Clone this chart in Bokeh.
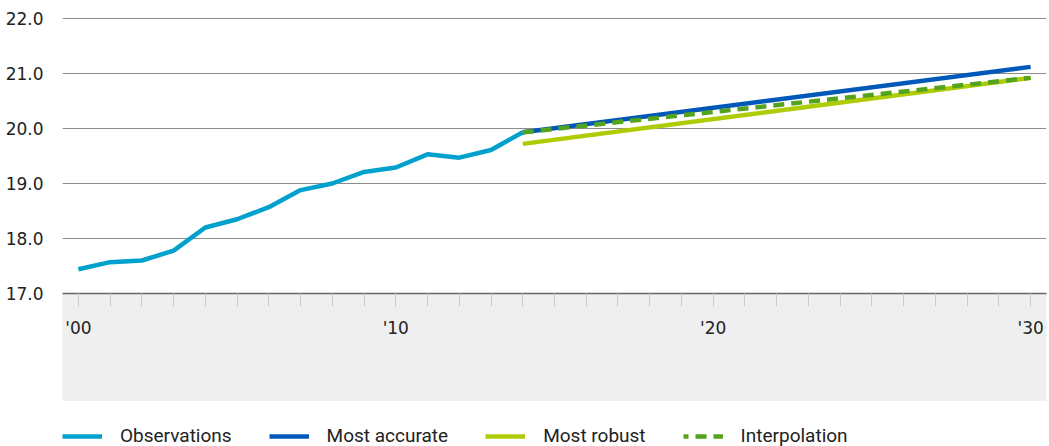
from bokeh.plotting import figure
from bokeh.layouts import column
from bokeh.models import FixedTicker, Legend, LegendItem, Range1d, CustomJSTickFormatter
from bokeh.embed import file_html
from bokeh.resources import INLINE

obs_years = list(range(2000, 2015))
obs_values = [17.44, 17.57, 17.60, 17.78, 18.20, 18.35, 18.57, 18.88, 19.00,
              19.21, 19.29, 19.53, 19.47, 19.61, 19.93]
proj_years = [2014, 2030]
accurate_values = [19.93, 21.12]
robust_values = [19.72, 20.92]
interp_values = [19.93, 20.92]

series_names = ["Observations", "Most accurate", "Most robust", "Interpolation"]
series_colors = ["#00a1cd", "#0058b8", "#afcb05", "#53a31d"]

y_ticks = [17, 18, 19, 20, 21, 22]
x_major = [2000, 2010, 2020, 2030]
x_labels = {2000: "'00", 2010: "'10", 2020: "'20", 2030: "'30"}

p = figure(frame_width=984, frame_height=277, output_backend="svg", toolbar_location=None,
           x_range=Range1d(1999.5, 2030.5), y_range=Range1d(17, 22.036),
           min_border_left=62, min_border_right=3, min_border_top=16, min_border_bottom=0)
p.outline_line_color = None
p.background_fill_color = "white"
p.border_fill_color = "white"

# y axis
p.yaxis.ticker = FixedTicker(ticks=y_ticks)
p.yaxis.formatter = CustomJSTickFormatter(code="return tick.toFixed(1);")
p.yaxis.axis_line_color = None
p.yaxis.major_tick_line_color = None
p.yaxis.minor_tick_line_color = None
p.yaxis.major_label_standoff = 13
p.yaxis.major_label_text_font = "DejaVu Sans"
p.yaxis.major_label_text_font_size = "17px"
p.yaxis.major_label_text_color = "#222222"

p.ygrid.ticker = FixedTicker(ticks=y_ticks)
p.ygrid.grid_line_color = "#8c8c8c"
p.ygrid.grid_line_width = 1.2
p.xgrid.grid_line_color = None

# x axis
p.xaxis.ticker = FixedTicker(ticks=x_major, minor_ticks=list(range(2000, 2031)))
p.xaxis.major_label_overrides = x_labels
p.xaxis.axis_line_color = "#666666"
p.xaxis.axis_line_width = 1.5
p.xaxis.major_tick_line_color = "#cccccc"
p.xaxis.minor_tick_line_color = "#cccccc"
p.xaxis.major_tick_in = 0
p.xaxis.minor_tick_in = 0
p.xaxis.major_tick_out = 13
p.xaxis.minor_tick_out = 13
p.xaxis.major_label_standoff = 11
p.xaxis.major_label_text_font = "DejaVu Sans"
p.xaxis.major_label_text_font_size = "17px"
p.xaxis.major_label_text_color = "#222222"
p.xaxis.axis_label = " "
p.xaxis.axis_label_text_font_size = "44px"
p.xaxis.axis_label_standoff = 9
p.xaxis.background_fill_color = "#efefef"

series = [(obs_years, obs_values), (proj_years, accurate_values),
          (proj_years, robust_values), (proj_years, interp_values)]
dashes = ["solid", "solid", "solid", "11 7"]

for (xs, ys), col, dash in zip(series, series_colors, dashes):
    p.line(xs, ys, line_color=col, line_width=4.5, line_dash=dash)

# legend strip (same series, drawn out of view so only the legend shows)
lg = figure(width=1049, height=46, output_backend="svg", toolbar_location=None,
            x_axis_location=None, y_axis_location=None,
            x_range=Range1d(0, 1), y_range=Range1d(0, 1),
            min_border_left=0, min_border_right=0, min_border_top=0, min_border_bottom=0)
lg.outline_line_color = None
lg.grid.grid_line_color = None
items = []
for name, (xs, ys), col, dash in zip(series_names, series, series_colors, dashes):
    r = lg.line(xs, ys, line_color=col, line_width=4.5, line_dash=dash,
                line_dash_offset=(6 if dash != "solid" else 0))
    items.append(LegendItem(label=name, renderers=[r]))

legend = Legend(items=items, orientation="horizontal", location=(0, 0))
legend.glyph_width = 40
legend.glyph_height = 20
legend.label_standoff = 18
legend.spacing = 37
legend.padding = 0
legend.margin = 0
legend.border_line_color = None
legend.background_fill_alpha = 0
legend.label_text_font = "Roboto"
legend.label_text_font_size = "19px"
legend.label_text_color = "#222222"
lg.add_layout(legend)

layout = column(p, lg, spacing=0)
open("out.html", "w").write(file_html(layout, INLINE))
